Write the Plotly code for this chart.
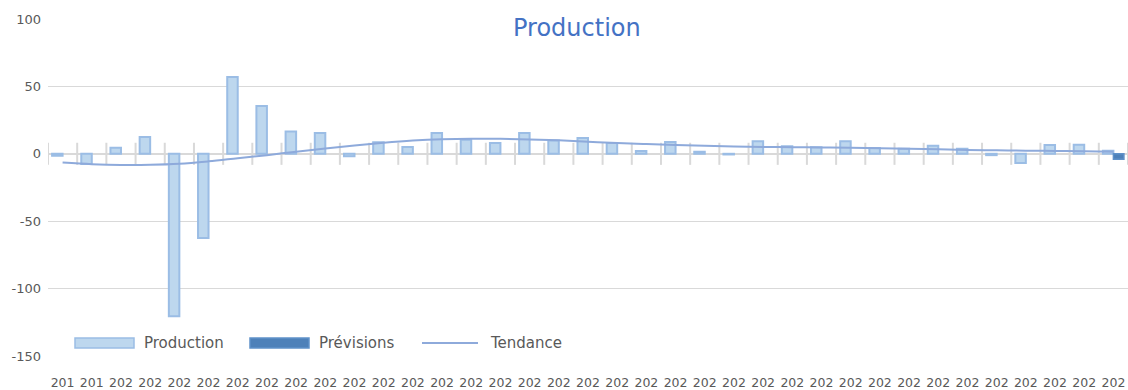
import plotly.graph_objects as go

# Monthly periods (category axis) and the tick text shown under each bar
periods = [
    "2019-11", "2019-12",
    "2020-01", "2020-02", "2020-03", "2020-04", "2020-05", "2020-06",
    "2020-07", "2020-08", "2020-09", "2020-10", "2020-11", "2020-12",
    "2021-01", "2021-02", "2021-03", "2021-04", "2021-05", "2021-06",
    "2021-07", "2021-08", "2021-09", "2021-10", "2021-11", "2021-12",
    "2022-01", "2022-02", "2022-03", "2022-04", "2022-05", "2022-06",
    "2022-07", "2022-08", "2022-09", "2022-10", "2022-11",
]
tick_labels = [p[:3] for p in periods]

production = [
    -1.5, -7.5, 4.5, 12.5, -120.5, -62.5, 57.0, 35.5, 16.5, 15.5,
    -1.8, 8.5, 5.0, 15.5, 10.5, 8.0, 15.5, 9.8, 11.8, 8.0,
    2.0, 8.8, 1.6, -0.5, 9.3, 5.6, 4.8, 9.3, 4.3, 3.8,
    6.0, 3.8, -1.0, -6.8, 6.5, 6.8, 2.3,
]
previsions = [None] * 36 + [-4.0]
tendance = [
    -6.5, -7.7, -8.3, -8.2, -7.4, -5.6, -3.3, -1.0, 1.6, 4.0,
    6.2, 8.2, 9.8, 10.8, 11.2, 11.1, 10.7, 10.0, 9.0, 8.0,
    7.2, 6.5, 5.9, 5.4, 5.1, 4.9, 4.7, 4.5, 4.2, 3.8,
    3.3, 2.9, 2.6, 2.3, 2.1, 1.9, 1.6,
]

# Value axis ticks, written with a plain hyphen for negatives
y_ticks = [-150, -100, -50, 0, 50, 100]
y_tick_text = ["-150", "-100", "-50", "0", "50", "100"]

FONT = "DejaVu Sans"
GREY_TXT = "#595959"
GRID = "#d9d9d9"
LIGHT_FILL = "#bdd7ee"
LIGHT_LINE = "#9bbde5"
DARK_FILL = "#4e81b9"
DARK_LINE = "#5f91c9"
TREND = "#8eaadb"
TITLE_BLUE = "#4472c4"

W, H = 1128, 390
ML, MR, MT, MB = 48, 0, 19, 34
Y_MIN, Y_MAX = -150, 100

fig = go.Figure()
fig.add_trace(go.Bar(
    x=periods, y=production, name="Production",
    marker=dict(color=LIGHT_FILL, line=dict(color=LIGHT_LINE, width=2)),
    showlegend=False,
))
fig.add_trace(go.Bar(
    x=periods, y=previsions, name="Prévisions",
    marker=dict(color=DARK_FILL, line=dict(color=DARK_LINE, width=1.5)),
    showlegend=False,
))
fig.add_trace(go.Scatter(
    x=periods, y=tendance, name="Tendance", mode="lines",
    line=dict(color=TREND, width=2, shape="spline", smoothing=1.0),
    showlegend=False,
))

# Category-boundary tick marks crossing the zero line
shapes = []
tick_half = 8.2
for k in range(len(periods) + 1):
    shapes.append(dict(
        type="line", xref="x", yref="y",
        x0=k - 0.5, x1=k - 0.5, y0=-tick_half, y1=tick_half,
        line=dict(color=GRID, width=2), layer="below",
    ))

# Hand-drawn legend inside the plot area (pixel layout converted to paper units)
pw, ph = W - ML - MR, H - MT - MB


def px_x(v):
    return (v - ML) / pw


def px_y(v):
    return (H - MB - v) / ph


legend_y = 343
shapes += [
    dict(type="rect", xref="paper", yref="paper",
         x0=px_x(75), x1=px_x(134), y0=px_y(348), y1=px_y(338),
         fillcolor=LIGHT_FILL, line=dict(color=LIGHT_LINE, width=1.5)),
    dict(type="rect", xref="paper", yref="paper",
         x0=px_x(250), x1=px_x(309), y0=px_y(348), y1=px_y(338),
         fillcolor=DARK_FILL, line=dict(color=DARK_LINE, width=1.5)),
    dict(type="line", xref="paper", yref="paper",
         x0=px_x(422), x1=px_x(478), y0=px_y(legend_y), y1=px_y(legend_y),
         line=dict(color=TREND, width=2)),
]

annotations = [
    dict(text="Production", xref="paper", yref="paper",
         x=px_x(577), y=px_y(28), xanchor="center", yanchor="middle",
         showarrow=False, bgcolor="white",
         font=dict(family=FONT, size=24, color=TITLE_BLUE)),
]
for label, xpix in [("Production", 142), ("Prévisions", 317), ("Tendance", 488)]:
    annotations.append(dict(
        text=label, xref="paper", yref="paper",
        x=px_x(xpix), y=px_y(legend_y), xanchor="left", yanchor="middle",
        showarrow=False, font=dict(family=FONT, size=15, color=GREY_TXT),
    ))

fig.update_layout(
    width=W, height=H,
    margin=dict(l=ML, r=MR, t=MT, b=MB, pad=0),
    paper_bgcolor="white", plot_bgcolor="white",
    barmode="group", bargap=0.28, bargroupgap=0.0,
    font=dict(family=FONT, color=GREY_TXT),
    shapes=shapes, annotations=annotations,
    xaxis=dict(
        type="category", range=[-0.5, len(periods) - 0.5],
        tickmode="array", tickvals=periods, ticktext=tick_labels,
        showgrid=False, showline=False, ticks="", zeroline=False,
        tickfont=dict(family=FONT, size=12.5, color=GREY_TXT),
        ticklabelstandoff=17,
    ),
    yaxis=dict(
        range=[Y_MIN, Y_MAX], tickmode="array",
        tickvals=y_ticks, ticktext=y_tick_text,
        showgrid=True, gridcolor=GRID, gridwidth=1,
        zeroline=True, zerolinecolor=GRID, zerolinewidth=2,
        showline=False, ticks="",
        tickfont=dict(family=FONT, size=13, color=GREY_TXT),
        ticklabelstandoff=6,
    ),
)

fig.write_html("out.html")
